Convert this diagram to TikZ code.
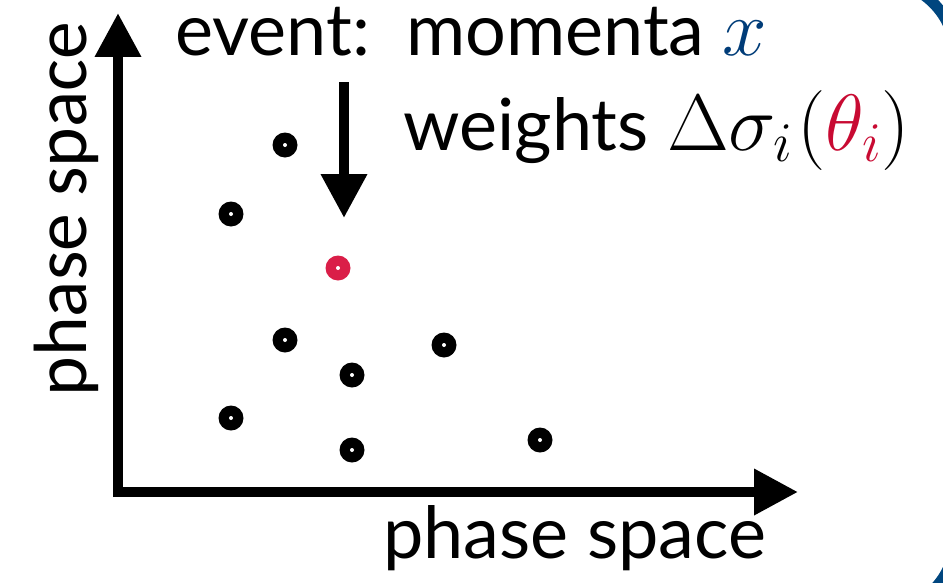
\RequirePackage{fix-cm}
\documentclass[tikz,border=0pt]{standalone}
\usepackage{amsmath,amssymb}
\usepackage{xcolor}
\usepackage{fontspec}
\setmainfont{Lato}[Scale=0.9]
\newfontfamily\axisfont{Carlito}
\usetikzlibrary{arrows.meta}

\definecolor{frameblue}{RGB}{0,70,127}
\definecolor{momblue}{RGB}{0,60,120}
\definecolor{thetared}{RGB}{200,10,50}
\definecolor{dotred}{RGB}{218,30,72}

\begin{document}
\begin{tikzpicture}[
        x=0.02cm, y=-0.02cm,
        font=\fontsize{45.5pt}{50pt}\selectfont,
        axis/.style={
            line width=5.7pt,
            -{Triangle[length=25pt, width=25pt]}
        },
        evt/.style={
            circle, fill=#1,
            inner sep=0pt,
            minimum size=0.5cm,
            path picture={\fill[white] (path picture bounding box.center) circle[radius=0.04cm];}
        },
        evt/.default=black,
        lbl/.style={inner sep=0pt, anchor=base west},
    ]
    \useasboundingbox (0,0) rectangle (943,582);

    %============================================================
    % Frame edge (rounded box, corners just visible)
    %============================================================
    \begin{scope}
        \clip (0,0) rectangle (943,582);
        \draw[frameblue, line width=6.3pt, rounded corners=1.51cm]
            (-400,-19) rectangle (955.5,612);
    \end{scope}

    %============================================================
    % Axes
    %============================================================
    \coordinate (O)    at (118,497);
    \coordinate (Oh)   at (113,492);
    \coordinate (ytip) at (118,13);
    \coordinate (xtip) at (798,492);
    \draw[axis] (O) -- (ytip);
    \draw[axis] (Oh) -- (xtip);

    \node[inner sep=0pt, anchor=base, rotate=90, font=\axisfont\fontsize{43pt}{48pt}\selectfont]
        (ylab) at (86,209) {phase space};
    \node[lbl] (xlab) at (383,558) {phase space};

    %============================================================
    % Events
    %============================================================
    \node[evt] (ev1) at (285,145) {};
    \node[evt] (ev2) at (231,214) {};
    \node[evt] (ev3) at (285,340) {};
    \node[evt] (ev4) at (444,345) {};
    \node[evt] (ev5) at (352,375) {};
    \node[evt] (ev6) at (231,418) {};
    \node[evt] (ev7) at (352,450) {};
    \node[evt] (ev8) at (540,440) {};
    \node[evt=dotred] (evsel) at (338,268) {};

    %============================================================
    % Labels and arrow to the selected event
    %============================================================
    \node[lbl] (evtext) at (175,55) {event:\enspace momenta \textcolor{momblue}{$x$}};
    \node[lbl] (wtext) at (403,150) {weights $\Delta\sigma_i\mkern1mu(\textcolor{thetared}{\theta_i})$};

    \coordinate (arrtop) at (344,82);
    \coordinate (arrtip) at (344,218);
    \draw[axis] (arrtop) -- (arrtip);

\end{tikzpicture}
\end{document}
